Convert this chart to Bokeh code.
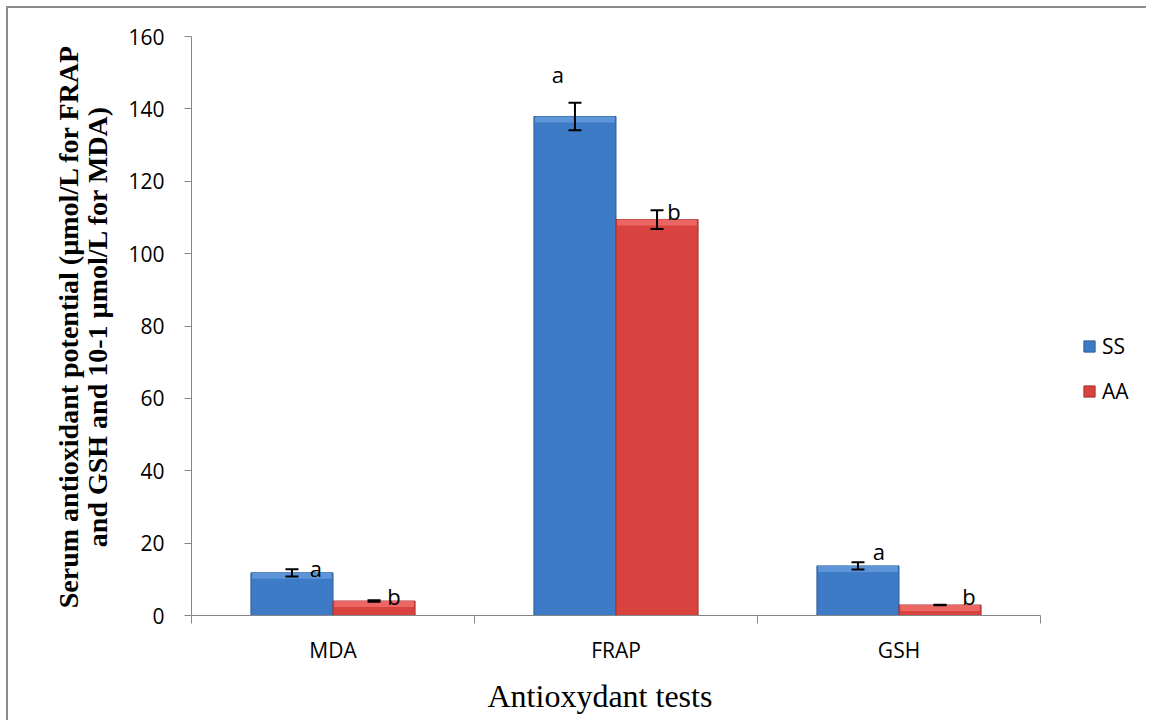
from bokeh.plotting import figure
from bokeh.models import (ColumnDataSource, Range1d, LinearAxis, Title,
                          FixedTicker, Whisker, TeeHead, Legend, LegendItem, CustomJSTickFormatter)
from bokeh.core.properties import value
from bokeh.embed import file_html
from bokeh.resources import INLINE

# ---------------- data ----------------
categories = ["MDA", "FRAP", "GSH"]
series_names = ["SS", "AA"]
ss_values = [11.8, 137.9, 13.7]
aa_values = [4.0, 109.4, 2.9]
ss_errors = [1.0, 3.8, 1.0]
aa_errors = [0.2, 2.6, 0.1]
ss_letters = ["a", "a", "a"]
aa_letters = ["b", "b", "b"]
y_ticks = [0, 20, 40, 60, 80, 100, 120, 140, 160]
y_label = "Serum antioxidant potential (µmol/L for FRAP\nand GSH and 10-1 µmol/L for MDA)"
x_label = "Antioxydant tests"

# ---------------- styles ----------------
ss_dx = [24, -17, 21]
ss_dy = [-5, -42, -15]
aa_dx = [20, 17, 29]
aa_dy = [-5, -9, -9]
BLUE, BLUE_EDGE, BLUE_TOP = "#3d7bc6", "#2c5c98", "#5e95d8"
RED, RED_EDGE, RED_TOP = "#d8423f", "#a23330", "#ec6764"
AXIS_GRAY = "#868686"
TICK_FONT = "Open Sans"

W, H = 1140, 714
ML, MR, MT, MB = 183, 0, 28, 105
CAT_PX = 283          # pixel width of one category slot
Y_MAX = y_ticks[-1]
frame_h = H - MT - MB
frame_w = W - ML - MR
bevel = 6 * Y_MAX / frame_h  # 6 px top highlight in data units
OFF = 0.145
BW = 0.29

n = len(categories)
centers = [i + 0.5 for i in range(n)]
x_end = frame_w / CAT_PX   # extra room on the right holds the legend

p = figure(x_range=Range1d(0, x_end), y_range=Range1d(0, Y_MAX),
           width=W, height=H, output_backend="svg", toolbar_location=None,
           min_border_left=ML, min_border_right=MR, min_border_top=MT, min_border_bottom=MB,
           x_axis_location=None, background_fill_color="white", border_fill_color="white")
p.outline_line_color = None
p.xgrid.visible = False
p.ygrid.visible = False
p.styles = {"border-top": "2px solid #8c8c8c", "border-left": "2px solid #8c8c8c",
            "margin-left": "6px", "margin-top": "6px"}

# y axis
yax = p.yaxis[0]
yax.ticker = FixedTicker(ticks=y_ticks)
yax.axis_line_color = AXIS_GRAY
yax.major_tick_line_color = AXIS_GRAY
yax.major_tick_out = 7
yax.major_tick_in = 0
yax.minor_tick_line_color = None
yax.major_label_text_font = TICK_FONT
yax.major_label_text_font_size = "21px"
yax.major_label_text_color = "black"
yax.major_label_standoff = 20
yax.axis_label = y_label
yax.axis_label_text_font = "Liberation Serif"
yax.axis_label_text_font_style = "bold"
yax.axis_label_text_font_size = "28px"
yax.axis_label_text_color = "black"
yax.axis_label_standoff = 12
yax.axis_label_text_line_height = 0.95

# x axis: boundary ticks + category labels
edge_ticks = list(range(n + 1))
tick_axis = LinearAxis(ticker=FixedTicker(ticks=edge_ticks), bounds=(0, n),
                       formatter=CustomJSTickFormatter(code="return ''"),
                       axis_line_color=AXIS_GRAY, major_tick_line_color=AXIS_GRAY,
                       major_tick_out=8, major_tick_in=0, minor_tick_line_color=None,
                       major_label_text_font_size="1px", major_label_standoff=0)
p.add_layout(tick_axis, "below")
cat_axis = LinearAxis(ticker=FixedTicker(ticks=centers), bounds=(0, n),
                      formatter=CustomJSTickFormatter(args=dict(cats=categories),
                                                      code="return cats[Math.floor(tick)]"),
                      axis_line_color=None, major_tick_line_color=None,
                      minor_tick_line_color=None, major_tick_out=0, major_tick_in=0,
                      major_label_standoff=12, major_label_text_font=TICK_FONT,
                      major_label_text_font_size="21px", major_label_text_color="black")
p.add_layout(cat_axis, "below")

x_title = Title(text=x_label, align="left", offset=296, standoff=18,
                text_font="Liberation Serif", text_font_style="normal",
                text_font_size="32px", text_color="black")
p.add_layout(x_title, "below")


def make_source(vals, errs, letters, dx, dy, off):
    return ColumnDataSource(dict(
        x=[c + off for c in centers], top=vals,
        upper=[v + e for v, e in zip(vals, errs)],
        lower=[v - e for v, e in zip(vals, errs)],
        hbot=[max(v - bevel, 0) for v in vals],
        letter=letters, dx=dx, dy=dy))

src_ss = make_source(ss_values, ss_errors, ss_letters, ss_dx, ss_dy, -OFF)
src_aa = make_source(aa_values, aa_errors, aa_letters, aa_dx, aa_dy, OFF)

renderers = []
for src, col, edge, topc in [(src_ss, BLUE, BLUE_EDGE, BLUE_TOP),
                             (src_aa, RED, RED_EDGE, RED_TOP)]:
    r = p.vbar(x="x", top="top", bottom=0, width=BW, fill_color=col, line_color=edge,
               line_width=1, source=src)
    p.vbar(x="x", top="top", bottom="hbot", width=BW * 0.97, fill_color=topc,
           line_color=None, source=src)
    renderers.append(r)
    w = Whisker(source=src, base="x", upper="upper", lower="lower", dimension="height",
                line_color="black", line_width=2, level="overlay",
                upper_head=TeeHead(size=13, line_width=2, line_color="black"),
                lower_head=TeeHead(size=13, line_width=2, line_color="black"))
    p.add_layout(w)
    p.text(x="x", y="top", text="letter", x_offset="dx", y_offset="dy",
           text_font=value(TICK_FONT), text_font_size=value("22px"),
           text_align="center", text_baseline="middle", text_color="black", source=src)

legend = Legend(items=[LegendItem(label=series_names[0], renderers=[renderers[0]]),
                       LegendItem(label=series_names[1], renderers=[renderers[1]])],
                location=(n * CAT_PX + 42, 210), orientation="vertical",
                glyph_width=14, glyph_height=14, label_height=22, spacing=17,
                label_text_font=TICK_FONT, label_text_font_size="21px",
                label_text_color="black", label_standoff=6,
                padding=0, margin=0, border_line_color=None, background_fill_alpha=0)
p.add_layout(legend, "center")

open("out.html", "w").write(file_html(p, INLINE))
